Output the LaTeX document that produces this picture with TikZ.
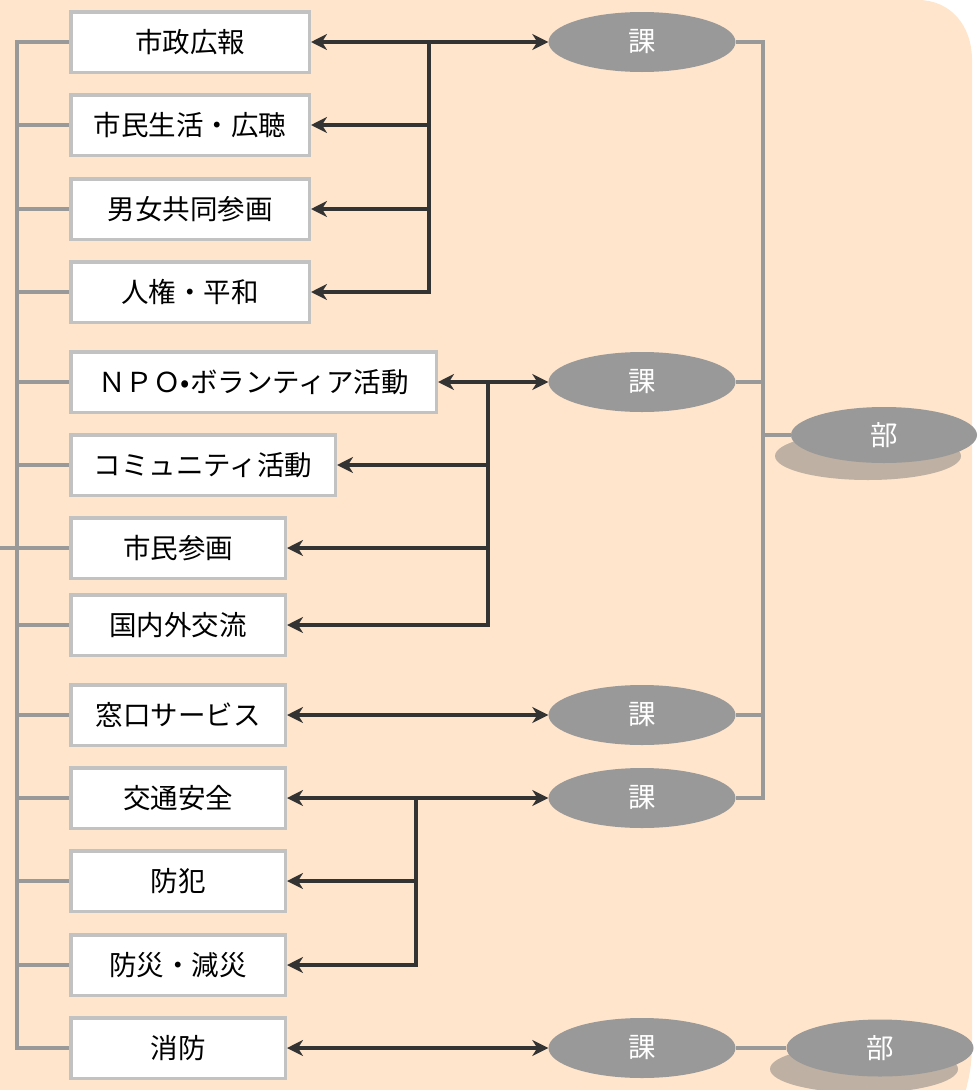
\documentclass[tikz,border=0pt]{standalone}
\usepackage{fontspec}
\newfontfamily\jp{Noto Sans CJK JP}
\usetikzlibrary{arrows.meta,shapes.geometric}
\definecolor{bgc}{HTML}{FFE5CC}
\definecolor{boxc}{HTML}{C2C2C2}
\definecolor{glc}{HTML}{999999}
\definecolor{dkc}{HTML}{333333}
\definecolor{shc}{HTML}{BEB0A3}
\tikzset{
  box/.style={draw=boxc, line width=3.5pt, fill=white, minimum height=60.5pt, inner sep=0pt, font=\jp\fontsize{27.5}{27.5}\selectfont, text=black},
  kaell/.style={ellipse, fill=glc, draw=none, minimum width=187pt, minimum height=60pt, inner sep=0pt, font=\jp\fontsize{27.5}{27.5}\selectfont, text=white},
  gl/.style={draw=glc, line width=4pt},
  dk/.style={draw=dkc, line width=4pt},
  arr/.style={dk, -{Stealth[length=16pt,width=16pt,inset=5pt]}},
}
\begin{document}
\begin{tikzpicture}[x=1pt,y=-1pt]
\useasboundingbox (0,0) rectangle (978,1090);
% background
\fill[bgc] (0,0) -- (918,0) .. controls (950,0) and (972,25) .. (972,60) -- (972,1043) .. controls (972,1065) and (969,1080) .. (963,1100) -- (0,1100) -- cycle;

% left boxes
\node[box, minimum width=238.5pt] (b1) at (190,42) {市政広報};
\node[box, minimum width=238.5pt] (b2) at (190,125) {市民生活・広聴};
\node[box, minimum width=238.5pt] (b3) at (190,209) {男女共同参画};
\node[box, minimum width=238.5pt] (b4) at (190,292) {人権・平和};
\node[box, minimum width=365.5pt] (b5) at (253.5,382) {ＮＰＯ•ボランティア活動};
\node[box, minimum width=264.5pt] (b6) at (203,465) {コミュニティ活動};
\node[box, minimum width=214.5pt] (b7) at (178,548) {市民参画};
\node[box, minimum width=214.5pt] (b8) at (178,625) {国内外交流};
\node[box, minimum width=214.5pt] (b9) at (178,715) {窓口サービス};
\node[box, minimum width=214.5pt] (b10) at (178,798) {交通安全};
\node[box, minimum width=214.5pt] (b11) at (178,881) {防犯};
\node[box, minimum width=214.5pt] (b12) at (178,965) {防災・減災};
\node[box, minimum width=214.5pt] (b13) at (178,1048) {消防};

% ka ellipses
\node[kaell] (k1) at (642,42) {課};
\node[kaell] (k2) at (642,382) {課};
\node[kaell] (k3) at (642,715) {課};
\node[kaell] (k4) at (642,798) {課};
\node[kaell] (k5) at (642,1048) {課};

% bu ellipses with shadows
\fill[shc] (868,456) ellipse [x radius=93, y radius=24];
\node[kaell, minimum width=186pt, minimum height=56pt] (u1) at (884,435) {部};
\fill[shc] (864,1069) ellipse [x radius=94, y radius=24];
\node[kaell, minimum width=187pt, minimum height=57pt] (u2) at (880,1048) {部};

% left gray trunk
\coordinate (tl) at (17,42);
\coordinate (bl) at (17,1048);
\coordinate (lin) at (0,548);
\draw[gl] (b1.west) -- (tl) -- (bl) -- (b13.west);
\foreach \b in {b2,b3,b4,b5,b6,b7,b8,b9,b10,b11,b12}
  \draw[gl] (\b.west) -- (\b.west -| tl);
\draw[gl] (lin) -- (lin -| tl);

% right gray trunk
\coordinate (tr) at (763,42);
\coordinate (br) at (763,798);
\draw[gl] (k1.east) -- (tr) -- (br) -- (k4.east);
\draw[gl] (k2.east) -- (k2.east -| tr);
\draw[gl] (k3.east) -- (k3.east -| tr);
\draw[gl] (u1.west -| tr) -- (u1.west);
\draw[gl] (k5.east) -- (u2.west);

% group 1
\coordinate (j1) at (429,42);
\draw[arr] (j1) -- (k1.west);
\draw[arr] (j1) -- (b1.east);
\draw[arr] (j1) |- (b4.east);
\draw[arr] (b2.east -| j1) -- (b2.east);
\draw[arr] (b3.east -| j1) -- (b3.east);

% group 2
\coordinate (j2) at (488,382);
\draw[arr] (j2) -- (k2.west);
\draw[arr] (j2) -- (b5.east);
\draw[arr] (j2) |- (b8.east);
\draw[arr] (b6.east -| j2) -- (b6.east);
\draw[arr] (b7.east -| j2) -- (b7.east);

% group 3
\draw[dk, {Stealth[length=16pt,width=16pt,inset=5pt]}-{Stealth[length=16pt,width=16pt,inset=5pt]}] (b9.east) -- (k3.west);

% group 4
\coordinate (j4) at (416,798);
\draw[arr] (j4) -- (k4.west);
\draw[arr] (j4) -- (b10.east);
\draw[arr] (j4) |- (b12.east);
\draw[arr] (b11.east -| j4) -- (b11.east);

% group 5
\draw[dk, {Stealth[length=16pt,width=16pt,inset=5pt]}-{Stealth[length=16pt,width=16pt,inset=5pt]}] (b13.east) -- (k5.west);
\end{tikzpicture}
\end{document}
